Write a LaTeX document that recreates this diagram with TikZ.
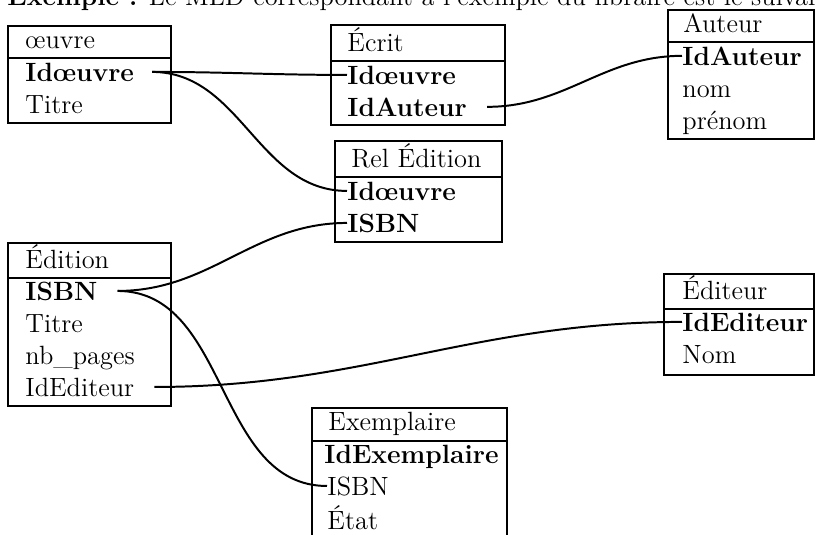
\documentclass[tikz,border=0pt]{standalone}
\usepackage{fontspec}
\tikzset{
  box/.style={line width=1.2pt},
  link/.style={line width=0.9pt},
  field/.style={inner sep=0pt, anchor=base west, font=\fontsize{12}{14.5}\selectfont},
  keyfield/.style={field, font=\fontsize{12}{14.5}\selectfont\bfseries},
}
\begin{document}
\begin{tikzpicture}[x=0.4545pt,y=-0.4545pt]
            \useasboundingbox (0,0) rectangle (816,535);
            \node[field] (intro) at (7,5) {\textbf{Exemple :} Le MLD correspondant à l'exemple du libraire est le suivant};
            % tables
            \draw[box] (8,26) rectangle (171,123) (8,58)--(171,58);
            \node[field] (oeuvre) at (25,48) {œuvre};
            \node[keyfield] (oeuvre-id) at (25,81) {Idœuvre};
            \node[field] (oeuvre-titre) at (25,113) {Titre};
            \draw[box] (331,25) rectangle (505,125) (331,61)--(505,61);
            \node[field] (ecrit) at (347,51) {Écrit};
            \node[keyfield] (ecrit-oeuvre) at (347,84) {Idœuvre};
            \node[keyfield] (ecrit-auteur) at (347,116) {IdAuteur};
            \draw[box] (668,10) rectangle (814,139) (668,42)--(814,42);
            \node[field] (auteur) at (683,32) {Auteur};
            \node[keyfield] (auteur-id) at (682,65) {IdAuteur};
            \node[field] (auteur-nom) at (682,97) {nom};
            \node[field] (auteur-prenom) at (682,129) {prénom};
            \draw[box] (335,141) rectangle (502,242) (335,177)--(502,177);
            \node[field] (rel) at (351,167) {Rel Édition};
            \node[keyfield] (rel-oeuvre) at (347,200) {Idœuvre};
            \node[keyfield] (rel-isbn) at (347,232) {ISBN};
            \draw[box] (8,243) rectangle (171,406) (8,278)--(171,278);
            \node[field] (edition) at (25,268) {Édition};
            \node[keyfield] (edition-isbn) at (25,300) {ISBN};
            \node[field] (edition-titre) at (25,332) {Titre};
            \node[field] (edition-pages) at (25,364) {nb\_pages};
            \node[field] (edition-editeur) at (25,396) {IdEditeur};
            \draw[box] (664,274) rectangle (814,375) (664,309)--(814,309);
            \node[field] (editeur) at (682,299) {Éditeur};
            \node[keyfield] (editeur-id) at (682,331) {IdEditeur};
            \node[field] (editeur-nom) at (682,363) {Nom};
            \draw[box] (312,408) rectangle (507,560) (312,441)--(507,441);
            \node[field] (exemplaire) at (328,430) {Exemplaire};
            \node[keyfield] (exemplaire-id) at (324,463) {IdExemplaire};
            \node[field] (exemplaire-isbn) at (327,495) {ISBN};
            \node[field] (exemplaire-etat) at (327,529) {État};
            % links
            \draw[link] ([xshift=8pt]oeuvre-id.east) to[out=0,in=180] (ecrit-oeuvre.west);
            \draw[link] ([xshift=8pt]oeuvre-id.east) to[out=0,in=180] (rel-oeuvre.west);
            \draw[link] ([xshift=9pt]ecrit-auteur.east) to[out=0,in=180] (auteur-id.west);
            \draw[link] ([xshift=9pt]edition-isbn.east) to[out=0,in=180] (rel-isbn.west);
            \draw[link] ([xshift=9pt]edition-isbn.east) to[out=0,in=180] (exemplaire-isbn.west);
            \draw[link] ([xshift=9pt]edition-editeur.east) to[out=0,in=180] (editeur-id.west);
        \end{tikzpicture}
\end{document}
